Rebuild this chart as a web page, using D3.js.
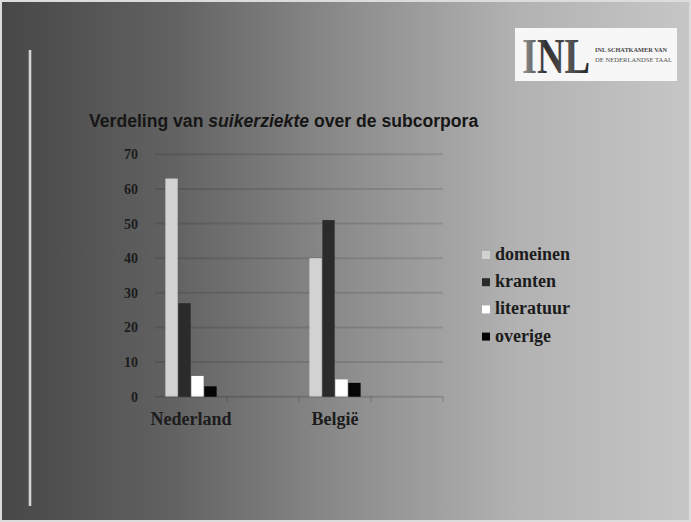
<!DOCTYPE html>
<html>
<head>
<meta charset="utf-8">
<script src="https://cdn.jsdelivr.net/npm/d3@7"></script>
<style>
  html, body { margin: 0; padding: 0; background: #fff; }
  svg { display: block; }
</style>
</head>
<body>
<svg id="chart" width="691" height="522"></svg>
<script>
// ---- data ----
const categories = ["Nederland", "", "België", " "];
const seriesNames = ["domeinen", "kranten", "literatuur", "overige"];
const domeinen   = [63, null, 40, null];
const kranten    = [27, null, 51, null];
const literatuur = [6,  null, 5,  null];
const overige    = [3,  null, 4,  null];
const yTicks = [0, 10, 20, 30, 40, 50, 60, 70];
const titleParts = ["Verdeling van ", "suikerziekte", " over de subcorpora"];

const seriesValues = [domeinen, kranten, literatuur, overige];
const seriesColors = ["#d2d2d2", "#2b2b2b", "#ffffff", "#050505"];

const svg = d3.select("#chart");
const W = 691, H = 522;

// background gradient
const defs = svg.append("defs");
const bg = defs.append("linearGradient").attr("id", "bg").attr("x1", "0").attr("x2", "1").attr("y1", "0").attr("y2", "0");
[[0, "#474747"], [0.25, "#626262"], [0.5, "#8c8c8c"], [0.75, "#b2b2b2"], [1, "#c6c6c6"]]
  .forEach(([o, c]) => bg.append("stop").attr("offset", o).attr("stop-color", c));
const logoGrad = defs.append("linearGradient").attr("id", "logoGrad").attr("x1", "0").attr("x2", "1").attr("y1", "0").attr("y2", "0");
[[0, "#9a9a9a"], [0.35, "#303030"], [0.7, "#555"], [1, "#222"]]
  .forEach(([o, c]) => logoGrad.append("stop").attr("offset", o).attr("stop-color", c));
const lineGrad = defs.append("linearGradient").attr("id", "lineGrad").attr("x1", "0").attr("x2", "1").attr("y1", "0").attr("y2", "0");
[[0, "#999"], [0.5, "#f2f2f2"], [1, "#999"]]
  .forEach(([o, c]) => lineGrad.append("stop").attr("offset", o).attr("stop-color", c));

svg.append("rect").attr("width", W).attr("height", H).attr("fill", "#dcdcdc");
svg.append("rect").attr("x", 2).attr("y", 2).attr("width", W - 4).attr("height", H - 4).attr("fill", "url(#bg)");

// vertical decorative line
svg.append("rect").attr("x", 28.5).attr("y", 50).attr("width", 3).attr("height", 456).attr("fill", "url(#lineGrad)");

// logo
const logo = svg.append("g");
logo.append("rect").attr("x", 515).attr("y", 28).attr("width", 162).attr("height", 53).attr("fill", "#f7f7f7");
const big = logo.append("text").attr("x", 0).attr("y", 0)
  .attr("font-family", "Liberation Serif, DejaVu Serif, serif").attr("font-weight", "bold").attr("font-size", 50)
  .attr("fill", "url(#logoGrad)").text("INL");
const natW = big.node().getComputedTextLength() || 85;
big.attr("transform", `translate(522,73) scale(${68 / natW},1)`);
logo.append("text").attr("x", 595).attr("y", 52)
  .attr("font-family", "Liberation Serif, DejaVu Serif, serif").attr("font-size", 6).attr("font-weight", "bold")
  .attr("textLength", 72).attr("lengthAdjust", "spacingAndGlyphs").attr("fill", "#444")
  .text("INL SCHATKAMER VAN");
logo.append("text").attr("x", 595).attr("y", 62)
  .attr("font-family", "Liberation Serif, DejaVu Serif, serif").attr("font-size", 6)
  .attr("textLength", 77).attr("lengthAdjust", "spacingAndGlyphs").attr("fill", "#555")
  .text("DE NEDERLANDSE TAAL");

// title
const title = svg.append("text").attr("x", 89).attr("y", 127)
  .attr("font-family", "Liberation Sans, Arial, sans-serif").attr("font-weight", "bold")
  .attr("font-size", 17.6).attr("fill", "#161616");
title.append("tspan").text(titleParts[0]);
title.append("tspan").attr("font-style", "italic").text(titleParts[1]);
title.append("tspan").text(titleParts[2]);

// scales
const x0 = d3.scaleBand().domain(categories).range([155, 443]).padding(0);
const x1 = d3.scaleBand().domain(seriesNames).range([0, x0.bandwidth()]).paddingInner(0.05).paddingOuter(0.8);
const y = d3.scaleLinear().domain([0, 70]).range([396.7, 154.3]);

const serif = "Liberation Serif, DejaVu Serif, serif";

// gridlines
svg.append("g").selectAll("line").data(yTicks.filter(t => t > 0)).join("line")
  .attr("x1", 155).attr("x2", 443)
  .attr("y1", d => y(d)).attr("y2", d => y(d))
  .attr("stroke", "rgba(0,0,0,0.11)").attr("stroke-width", 2);

// y labels
svg.append("g").selectAll("text").data(yTicks).join("text")
  .attr("x", 138).attr("y", d => y(d) + 5)
  .attr("text-anchor", "end").attr("font-family", serif).attr("font-weight", "bold")
  .attr("font-size", 14).attr("fill", "#1c1c1c").text(d => d);

// bars
const groups = svg.append("g").selectAll("g").data(categories).join("g")
  .attr("transform", d => `translate(${x0(d)},0)`);
groups.selectAll("rect")
  .data((c, ci) => seriesNames.map((s, si) => ({ s, si, v: seriesValues[si][ci] })).filter(d => d.v != null))
  .join("rect")
  .attr("x", d => x1(d.s)).attr("width", x1.bandwidth())
  .attr("y", d => y(d.v)).attr("height", d => y(0) - y(d.v))
  .attr("fill", d => seriesColors[d.si]);

// x axis line and ticks
svg.append("line").attr("x1", 155).attr("x2", 443).attr("y1", y(0)).attr("y2", y(0))
  .attr("stroke", "rgba(0,0,0,0.14)").attr("stroke-width", 2);
svg.append("g").selectAll("line").data(categories.slice(1).concat(["__end"])).join("line")
  .attr("x1", d => d === "__end" ? 443 : x0(d)).attr("x2", d => d === "__end" ? 443 : x0(d))
  .attr("y1", y(0)).attr("y2", y(0) + 5)
  .attr("stroke", "rgba(0,0,0,0.14)").attr("stroke-width", 1.5);

// x labels
svg.append("g").selectAll("text").data(categories).join("text")
  .attr("x", d => x0(d) + x0.bandwidth() / 2).attr("y", 425)
  .attr("text-anchor", "middle").attr("font-family", serif).attr("font-weight", "bold")
  .attr("font-size", 18).attr("fill", "#1c1c1c").text(d => d.trim());

// legend
const legend = svg.append("g").selectAll("g").data(seriesNames).join("g")
  .attr("transform", (d, i) => `translate(482, ${255 + i * 27.2})`);
legend.append("rect").attr("x", 0).attr("y", -4).attr("width", 8).attr("height", 8)
  .attr("fill", (d, i) => seriesColors[i]);
legend.append("text").attr("x", 13).attr("y", 5)
  .attr("font-family", serif).attr("font-weight", "bold").attr("font-size", 18)
  .attr("fill", "#1c1c1c").text(d => d);
</script>
</body>
</html>
